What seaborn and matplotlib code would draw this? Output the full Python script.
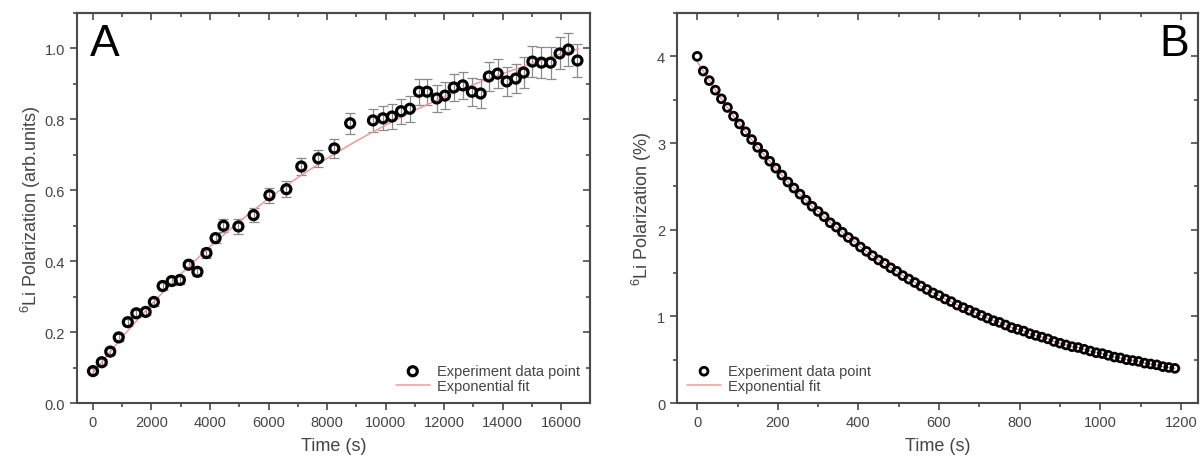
import matplotlib
matplotlib.use("Agg")
import matplotlib.pyplot as plt
import seaborn as sns
import numpy as np
from matplotlib.ticker import MultipleLocator

# --- Panel A: build-up of 6Li polarization ---
time_a = [0, 300, 590, 880, 1190, 1480, 1800, 2080, 2380, 2690, 2970, 3270,
          3570, 3880, 4190, 4460, 4970, 5490, 6030, 6610, 7120, 7700, 8250,
          8790, 9570, 9910, 10220, 10530, 10830, 11140, 11420, 11750, 12030,
          12330, 12640, 12950, 13250, 13530, 13830, 14140, 14450, 14720,
          15020, 15330, 15640, 15950, 16250, 16560]
pol_a = [0.09, 0.115, 0.145, 0.185, 0.228, 0.253, 0.257, 0.285, 0.33, 0.344,
         0.347, 0.39, 0.37, 0.423, 0.465, 0.50, 0.498, 0.53, 0.586, 0.603,
         0.667, 0.69, 0.718, 0.789, 0.797, 0.803, 0.808, 0.823, 0.83, 0.878,
         0.878, 0.859, 0.867, 0.89, 0.896, 0.878, 0.873, 0.921, 0.929, 0.907,
         0.915, 0.932, 0.963, 0.96, 0.96, 0.986, 0.997, 0.966]
err_a = [0.008, 0.008, 0.009, 0.009, 0.01, 0.01, 0.01, 0.011, 0.011, 0.012,
         0.012, 0.013, 0.013, 0.014, 0.015, 0.018, 0.02, 0.02, 0.021, 0.022,
         0.024, 0.025, 0.027, 0.03, 0.033, 0.034, 0.035, 0.035, 0.036, 0.037,
         0.037, 0.038, 0.038, 0.039, 0.039, 0.04, 0.04, 0.041, 0.041, 0.042,
         0.042, 0.043, 0.044, 0.044, 0.045, 0.045, 0.046, 0.046]
fit_time_a = [0, 1000, 2000, 3000, 4000, 5000, 6000, 7000, 8000, 9000, 10000,
              11000, 12000, 13000, 14000, 15000, 16000, 16600]
fit_pol_a = [0.085, 0.186, 0.279, 0.364, 0.441, 0.512, 0.577, 0.636, 0.690,
             0.739, 0.784, 0.826, 0.863, 0.898, 0.929, 0.958, 0.985, 0.999]

# --- Panel B: decay of 6Li polarization ---
time_b = [0, 15, 30, 45, 60, 75, 90, 105, 120, 135, 150, 165, 180, 195, 210,
          225, 240, 255, 270, 285, 300, 315, 330, 345, 360, 375, 390, 405,
          420, 435, 450, 465, 480, 495, 510, 525, 540, 555, 570, 585, 600,
          615, 630, 645, 660, 675, 690, 705, 720, 735, 750, 765, 780, 795,
          810, 825, 840, 855, 870, 885, 900, 915, 930, 945, 960, 975, 990,
          1005, 1020, 1035, 1050, 1065, 1080, 1095, 1110, 1125, 1140, 1155,
          1170, 1185]
pol_b = [4.00, 3.83, 3.72, 3.61, 3.51, 3.41, 3.31, 3.22, 3.13, 3.04, 2.95,
         2.87, 2.79, 2.71, 2.63, 2.55, 2.48, 2.41, 2.34, 2.27, 2.21, 2.15,
         2.08, 2.03, 1.97, 1.91, 1.86, 1.80, 1.75, 1.70, 1.65, 1.61, 1.56,
         1.52, 1.47, 1.43, 1.39, 1.35, 1.31, 1.27, 1.24, 1.20, 1.17, 1.13,
         1.10, 1.07, 1.04, 1.01, 0.98, 0.95, 0.93, 0.90, 0.87, 0.85, 0.83,
         0.80, 0.78, 0.76, 0.74, 0.71, 0.69, 0.67, 0.65, 0.64, 0.62, 0.60,
         0.58, 0.57, 0.55, 0.53, 0.52, 0.50, 0.49, 0.48, 0.46, 0.45, 0.44,
         0.42, 0.41, 0.40]
fit_time_b = time_b
fit_pol_b = [3.94] + pol_b[1:]

sns.set_theme(style="ticks")
plt.rcParams['font.family'] = ['Liberation Sans', 'DejaVu Sans']
plt.rcParams['mathtext.fontset'] = 'custom'
plt.rcParams['mathtext.rm'] = 'Liberation Sans'
plt.rcParams['mathtext.it'] = 'Liberation Sans'

SPINE = '#4a4a4a'
TXT = '#444444'
FIT = '#f29a9a'

fig = plt.figure(figsize=(12, 4.64), dpi=100)
ax1 = fig.add_axes([0.0642, 0.1293, 0.4275, 0.8405])
ax2 = fig.add_axes([0.5642, 0.1293, 0.4340, 0.8405])


def style_axis(ax, xmaj, xmin, ymaj, ymin):
    ax.xaxis.set_major_locator(MultipleLocator(xmaj))
    ax.xaxis.set_minor_locator(MultipleLocator(xmin))
    ax.yaxis.set_major_locator(MultipleLocator(ymaj))
    ax.yaxis.set_minor_locator(MultipleLocator(ymin))
    for s in ax.spines.values():
        s.set_visible(True)
        s.set_color(SPINE)
        s.set_linewidth(1.5)
    ax.tick_params(which='both', color=SPINE, width=1.2, labelcolor=TXT,
                   labelsize=10.5, direction='out', top=False, right=False)
    ax.tick_params(which='major', length=5)
    ax.tick_params(which='minor', length=3)
    # ticks repetidos (para dentro) no topo e na direita
    sec_x = ax.secondary_xaxis('top')
    sec_y = ax.secondary_yaxis('right')
    sec_x.xaxis.set_major_locator(MultipleLocator(xmaj))
    sec_x.xaxis.set_minor_locator(MultipleLocator(xmin))
    sec_y.yaxis.set_major_locator(MultipleLocator(ymaj))
    sec_y.yaxis.set_minor_locator(MultipleLocator(ymin))
    for sec in (sec_x, sec_y):
        sec.tick_params(which='both', direction='in', color=SPINE, width=1.2,
                        labelsize=0)
        sec.tick_params(which='major', length=5)
        sec.tick_params(which='minor', length=3)
        for s in sec.spines.values():
            s.set_color(SPINE)
            s.set_linewidth(1.5)
    sec_x.set_xticklabels([])
    sec_y.set_yticklabels([])


def add_legend(ax, loc):
    h, l = ax.get_legend_handles_labels()
    order = [l.index('Experiment data point'), l.index('Exponential fit')]
    ax.legend([h[i] for i in order], [l[i] for i in order], loc=loc,
              frameon=False, fontsize=10.5, handlelength=2.3,
              handletextpad=0.5, labelspacing=0.05, borderaxespad=0.3,
              labelcolor=TXT)


# --- GRÁFICO A ---
sns.lineplot(x=fit_time_a, y=fit_pol_a, color=FIT, linewidth=1.1, ax=ax1,
             label='Exponential fit', zorder=2)
ax1.errorbar(time_a, pol_a, yerr=err_a, fmt='none', ecolor='#8a8a8a',
             elinewidth=0.9, capsize=3.5, capthick=0.9, zorder=1)
sns.scatterplot(x=time_a, y=pol_a, marker='o', s=42, facecolor='none',
                edgecolor='black', linewidth=2.3, ax=ax1,
                label='Experiment data point', zorder=3)
ax1.set_xlim(-545, 16990)
ax1.set_ylim(0, 1.1)
style_axis(ax1, 2000, 1000, 0.2, 0.1)
ax1.set_yticks([0, 0.2, 0.4, 0.6, 0.8, 1.0])
ax1.set_yticklabels(['0.0', '0.2', '0.4', '0.6', '0.8', '1.0'])
ax1.set_xlabel('Time (s)', fontsize=13, color=TXT, labelpad=6)
ax1.set_ylabel(r'$^{6}$Li Polarization (arb.units)', fontsize=13, color=TXT,
               labelpad=1.5)
ax1.text(0.025, 0.975, 'A', transform=ax1.transAxes, fontsize=32,
         ha='left', va='top', color='black')
add_legend(ax1, 'lower right')

# --- GRÁFICO B ---
sns.lineplot(x=fit_time_b, y=fit_pol_b, color=FIT, linewidth=1.1, ax=ax2,
             label='Exponential fit', zorder=2)
sns.scatterplot(x=time_b, y=pol_b, marker='o', s=32, facecolor='none',
                edgecolor='black', linewidth=2.0, ax=ax2,
                label='Experiment data point', zorder=3)
ax2.set_xlim(-50, 1242)
ax2.set_ylim(0, 4.5)
style_axis(ax2, 200, 100, 1, 0.5)
ax2.set_xlabel('Time (s)', fontsize=13, color=TXT, labelpad=6)
ax2.set_ylabel(r'$^{6}$Li Polarization (%)', fontsize=13, color=TXT,
               labelpad=2)
ax2.text(0.983, 0.975, 'B', transform=ax2.transAxes, fontsize=32,
         ha='right', va='top', color='black')
add_legend(ax2, 'lower left')

fig.savefig('out.png', dpi=100)
